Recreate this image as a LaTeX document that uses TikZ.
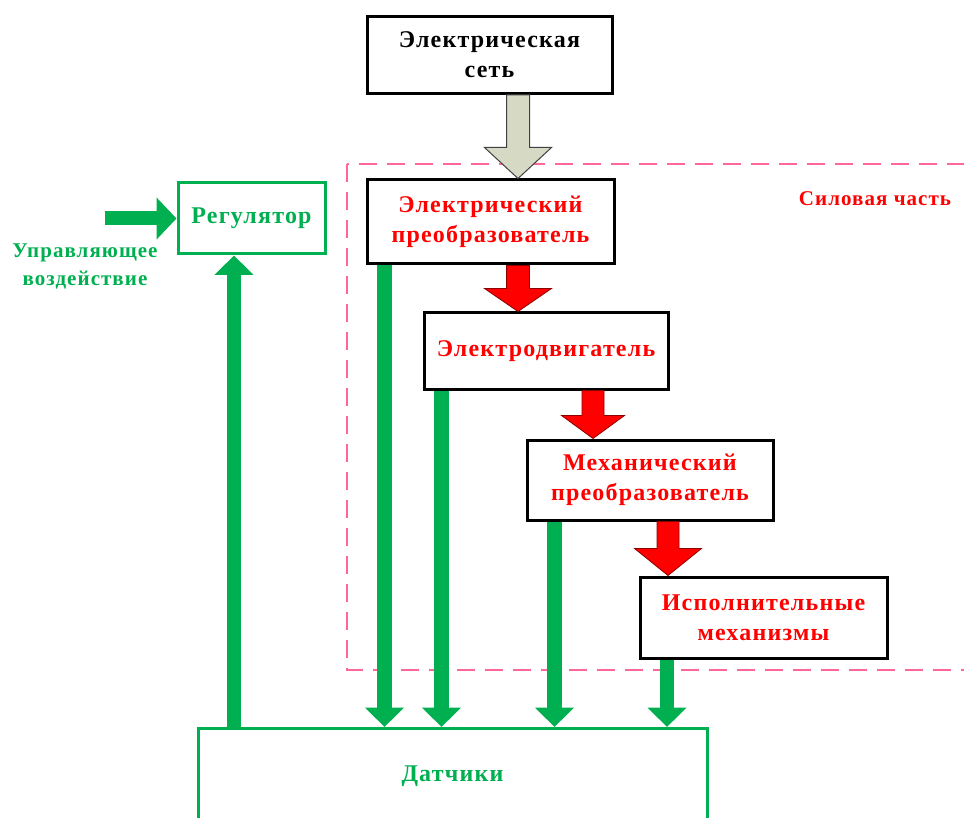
\documentclass[tikz,border=0pt]{standalone}
\usepackage{fontspec}
\setmainfont{Liberation Serif}[LetterSpace=5]
\usetikzlibrary{calc,arrows.meta}
\definecolor{sigGreen}{RGB}{0,176,80}
\definecolor{powRed}{RGB}{255,0,0}
\definecolor{zonePink}{RGB}{255,102,153}
\definecolor{netGray}{RGB}{214,217,196}

% vertical block arrow: style, start point, tip point, shaft half-width, head half-width, head length
\newcommand\blockdown[6]{%
  \draw[#1] let \p1=(#2), \p2=(#3) in
    (\x2-#4,\y1) -- (\x2-#4,\y2+#6) -- (\x2-#5,\y2+#6) -- (\x2,\y2)
    -- (\x2+#5,\y2+#6) -- (\x2+#4,\y2+#6) -- (\x2+#4,\y1) -- cycle;}

\tikzset{
  label font/.style={font=\bfseries\fontsize{24}{30}\selectfont, align=center},
  powerbox/.style={draw=black, line width=3pt, fill=white, label font,
    text=powRed, inner sep=0pt},
  ctrlbox/.style={draw=sigGreen, line width=3pt, fill=white, label font,
    text=sigGreen, inner sep=0pt},
  sigarrow/.style={draw=sigGreen, line width=14.5pt,
    -{Triangle[length=19.5pt, width=38pt]}},
  redarrow/.style={fill=powRed, draw=powRed!55!black, line width=0.8pt},
  grayarrow/.style={fill=netGray, draw=black!75, line width=1pt},
}

\begin{document}
\begin{tikzpicture}[x=1pt, y=-1pt]
  \useasboundingbox (0,0) rectangle (964,818);

  % power section frame
  \draw[zonePink, line width=1.6pt, dash pattern=on 18pt off 10pt]
    (347,164) rectangle (990,670);
  \node[font=\bfseries\fontsize{21}{26}\selectfont, text=powRed] (powlabel)
    at (875,199) {Силовая часть};

  % blocks
  \node[powerbox, text=black, minimum width=245pt, minimum height=77pt] (grid)
    at (489.5,55) {Электрическая\\сеть};
  \node[powerbox, minimum width=247pt, minimum height=84pt] (conv)
    at (490.5,222) {Электрический\\преобразователь};
  \node[powerbox, minimum width=244pt, minimum height=76pt] (motor)
    at (546,351) {Электродвигатель};
  \node[powerbox, minimum width=246pt, minimum height=80pt] (mech)
    at (650,480) {Механический\\преобразователь};
  \node[powerbox, minimum width=247pt, minimum height=81pt] (exec)
    at (763.5,617.5) {Исполнительные\\механизмы};

  \node[ctrlbox, minimum width=147pt, minimum height=71pt] (reg)
    at (251.5,218.5) {Регулятор};
  \node[ctrlbox, minimum width=509pt, minimum height=110pt, anchor=north] (sens)
    at (452.5,727) {};
  \node[label font, text=sigGreen] (senslabel) at (452.5,776) {Датчики};

  \node[font=\bfseries\fontsize{21}{28}\selectfont, align=center, text=sigGreen]
    (cmd) at (85,266) {Управляющее\\воздействие};

  % energy flow
  \blockdown{grayarrow}{[xshift=28.5pt]grid.south}{[xshift=28.5pt]grid.south |- conv.north}{11.5pt}{33.5pt}{31pt}
  \blockdown{redarrow}{[xshift=27.5pt]conv.south}{[xshift=27.5pt]conv.south |- motor.north}{11.5pt}{33.5pt}{23pt}
  \blockdown{redarrow}{[xshift=47pt]motor.south}{[xshift=47pt]motor.south |- mech.north}{11pt}{31.5pt}{23pt}
  \blockdown{redarrow}{[xshift=18pt]mech.south}{[xshift=18pt]mech.south |- exec.north}{11pt}{33.5pt}{27pt}

  % feedback signals
  \draw[sigarrow] ([xshift=19pt]conv.south west) -- ([xshift=19pt]conv.south west |- sens.north);
  \draw[sigarrow] ([xshift=19pt]motor.south west) -- ([xshift=19pt]motor.south west |- sens.north);
  \draw[sigarrow] ([xshift=29pt]mech.south west) -- ([xshift=29pt]mech.south west |- sens.north);
  \draw[sigarrow] ([xshift=28.5pt]exec.south west) -- ([xshift=28.5pt]exec.south west |- sens.north);
  \draw[sigarrow] ([xshift=57.5pt]reg.south west |- sens.north) -- ([xshift=57.5pt]reg.south west);

  % command input
  \coordinate (cmdin) at (105,0);
  \draw[sigarrow, line width=14pt, -{Triangle[length=20pt, width=41pt]}]
    (cmdin |- reg.west) -- (reg.west);
\end{tikzpicture}
\end{document}
